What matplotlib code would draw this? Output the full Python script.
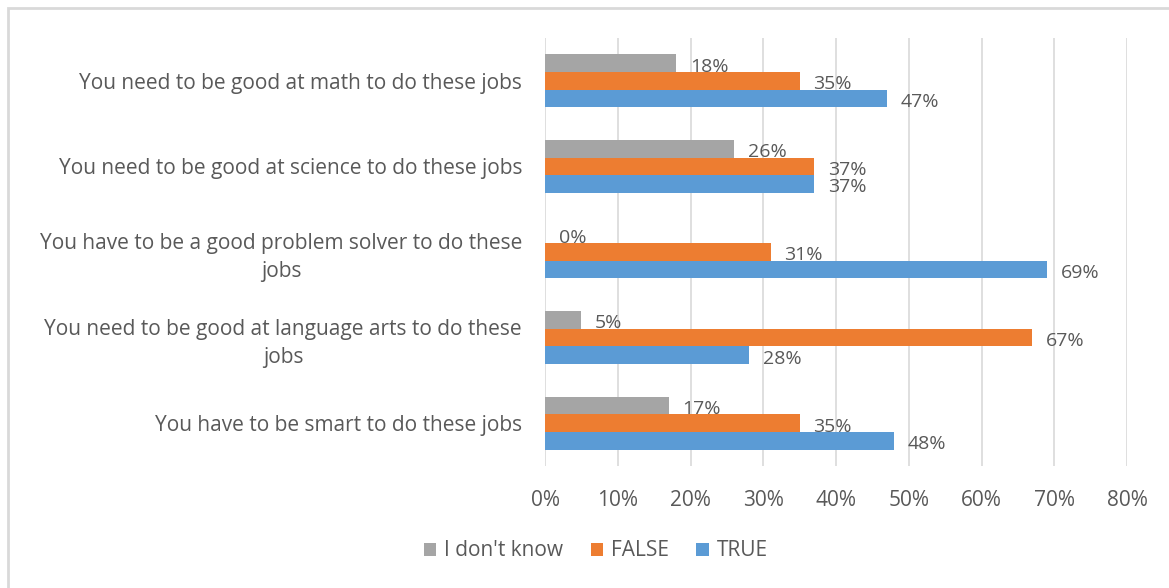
import matplotlib.pyplot as plt
import numpy as np
from matplotlib.patches import Rectangle

plt.rcParams['font.family'] = ['Open Sans', 'DejaVu Sans']

# statements, top to bottom
statements = [
    "You need to be good at math to do these jobs",
    "You need to be good at science to do these jobs",
    "You have to be a good problem solver to do these\njobs",
    "You need to be good at language arts to do these\njobs",
    "You have to be smart to do these jobs",
]
dont_know = [18, 26, 0, 5, 17]
false_pct = [35, 37, 31, 67, 35]
true_pct = [47, 37, 69, 28, 48]

series_names = ["I don't know", "FALSE", "TRUE"]
series_colors = ['#A5A5A5', '#ED7D31', '#5B9BD5']
text_color = '#595959'

fig = plt.figure(figsize=(11.69, 5.88), dpi=100)
# chart frame
fig.patches.append(Rectangle((8 / 1169, -0.01), 1.1, 1 - 8 / 588 + 0.01,
                             transform=fig.transFigure, fill=False,
                             edgecolor='#D9D9D9', linewidth=2))

ax = fig.add_axes([545 / 1169, 1 - 466 / 588, 582 / 1169, 428 / 588])

y = np.arange(len(statements))
h = 0.205
offsets = [-h, 0, h]
for vals, name, col, off in zip([dont_know, false_pct, true_pct], series_names, series_colors, offsets):
    bars = ax.barh(y + off, vals, height=h, color=col, label=name, zorder=3)
    for b, v in zip(bars, vals):
        ax.text(v + 1.9, b.get_y() + b.get_height() / 2 + 0.04, f"{v}%",
                va='center', ha='left', fontsize=14, color=text_color, zorder=4)

ax.set_ylim(len(statements) - 0.5, -0.5)
ax.set_xlim(0, 80)
ax.set_xticks(np.arange(0, 81, 10))
ax.set_xticklabels([f"{t}%" for t in range(0, 81, 10)])
ax.set_yticks(y)
ax.set_yticklabels(statements, multialignment='center', linespacing=1.4)
ax.tick_params(axis='both', length=0, labelsize=15, labelcolor=text_color)
ax.tick_params(axis='x', pad=17)
ax.tick_params(axis='y', pad=16.5)
ax.grid(axis='x', color='#D9D9D9', linewidth=1.2, zorder=0)
for s in ax.spines.values():
    s.set_visible(False)

handles, labels = ax.get_legend_handles_labels()
fig.legend(handles, labels, loc='center', bbox_to_anchor=(596 / 1169, 1 - 551 / 588),
           ncol=3, frameon=False, fontsize=15, labelcolor=text_color,
           handlelength=0.6, handleheight=0.6, handletextpad=0.4, columnspacing=1.3)

fig.savefig('out.png', dpi=100)
